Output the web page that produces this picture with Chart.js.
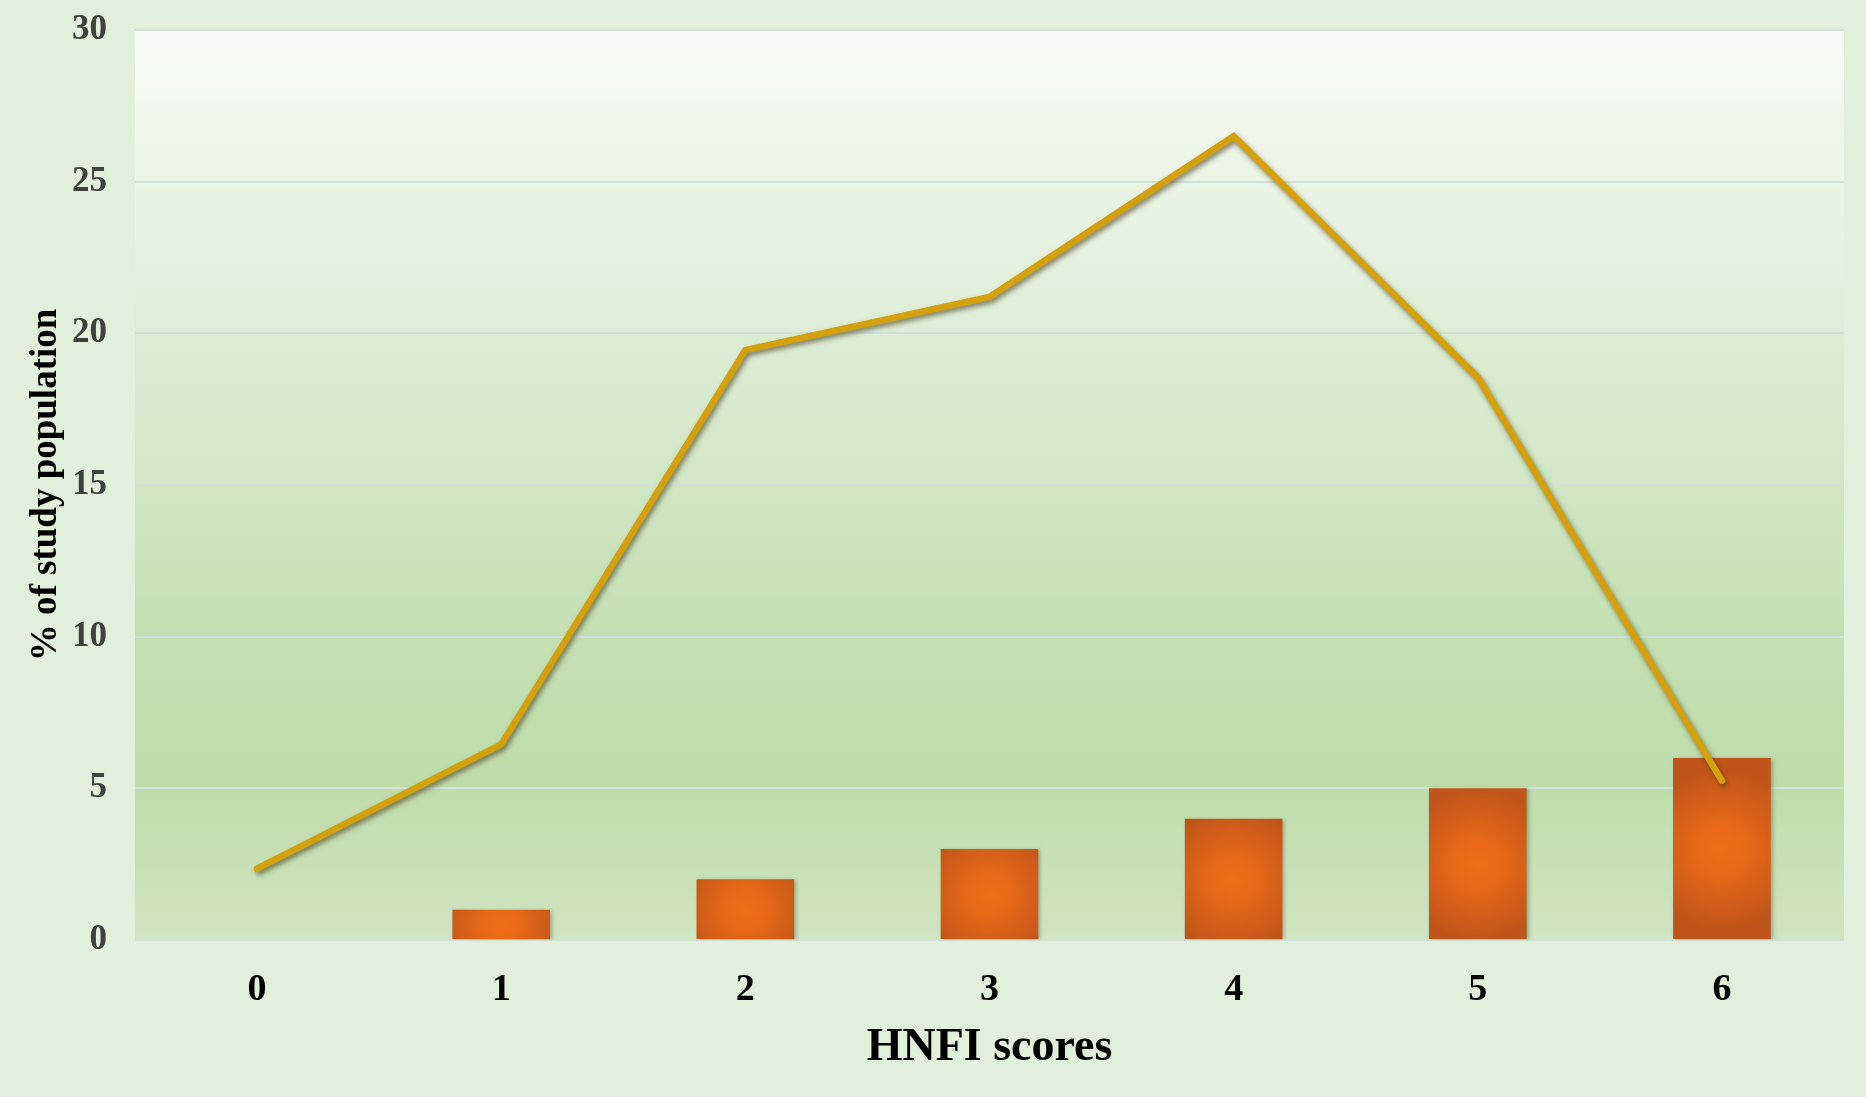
<!DOCTYPE html>
<html>
<head>
<meta charset="utf-8">
<title>HNFI scores</title>
<script src="https://cdn.jsdelivr.net/npm/chart.js@4.4.1/dist/chart.umd.min.js"></script>
<style>
  html, body { margin: 0; padding: 0; background: #E2EFDA; }
  #wrap { width: 1866px; height: 1097px; position: relative; }
</style>
</head>
<body>
<div id="wrap"><canvas id="hnfi-chart"></canvas></div>
<script>
// values
const scores = ['0', '1', '2', '3', '4', '5', '6'];
const barValues = [0, 1, 2, 3, 4, 5, 6];
const linePercent = [2.35, 6.45, 19.45, 21.2, 26.5, 18.55, 5.25];
const yTicks = [0, 5, 10, 15, 20, 25, 30];

const serif = "'Liberation Serif', 'Times New Roman', serif";

// orange bars, bright in the middle and darker towards the edges
function barFill(ctx) {
  const chart = ctx.chart;
  if (!chart.chartArea || !chart.scales.x) return '#E06518';
  const xs = chart.scales.x, ys = chart.scales.y;
  const cx = xs.getPixelForValue(ctx.dataIndex);
  const top = ys.getPixelForValue(ctx.raw);
  const base = ys.getPixelForValue(0);
  const w = xs.getPixelForValue(1) - xs.getPixelForValue(0);
  const bw = w * 0.4;
  const cy = (top + base) / 2;
  const r = bw * 0.6 + (base - top) * 0.12;
  const g = chart.ctx.createRadialGradient(cx, cy, 0, cx, cy, r);
  g.addColorStop(0, '#EE6E19');
  g.addColorStop(0.3, '#E86818');
  g.addColorStop(1, '#BF551A');
  return g;
}

const backdrop = {
  id: 'backdrop',
  beforeDraw(chart) {
    const { ctx, chartArea: a, width, height } = chart;
    ctx.save();
    ctx.fillStyle = '#E2EFDA';
    ctx.fillRect(0, 0, width, height);
    const g = ctx.createLinearGradient(0, a.top, 0, a.bottom);
    g.addColorStop(0, '#F9FBF8');
    g.addColorStop(0.17, '#EBF4E5');
    g.addColorStop(0.34, '#DDEDD4');
    g.addColorStop(0.5, '#D0E6C4');
    g.addColorStop(0.67, '#C4DFB3');
    g.addColorStop(0.83, '#BEDCAA');
    g.addColorStop(1, '#D0E5C2');
    ctx.fillStyle = g;
    ctx.fillRect(a.left, a.top, a.right - a.left, a.bottom - a.top);
    ctx.restore();
  }
};

// soft drop shadow under the line and the bars
const shadow = {
  id: 'shadow',
  beforeDatasetDraw(chart, args) {
    const ctx = chart.ctx;
    ctx.save();
    if (args.meta.type === 'line') {
      ctx.shadowColor = 'rgba(60, 50, 20, 0.6)';
      ctx.shadowBlur = 5;
      ctx.shadowOffsetX = 2;
      ctx.shadowOffsetY = 3;
    } else {
      ctx.shadowColor = 'rgba(60, 60, 40, 0.35)';
      ctx.shadowBlur = 4;
      ctx.shadowOffsetX = 2;
      ctx.shadowOffsetY = 1;
    }
  },
  afterDatasetDraw(chart) {
    chart.ctx.restore();
  }
};

const canvas = document.getElementById('hnfi-chart');
new Chart(canvas.getContext('2d'), {
  data: {
    labels: scores,
    datasets: [
      {
        type: 'line',
        data: linePercent,
        borderColor: '#D4A00C',
        borderWidth: 6.5,
        tension: 0,
        pointRadius: 0,
        borderCapStyle: 'round',
        borderJoinStyle: 'miter',
        order: 0
      },
      {
        type: 'bar',
        data: barValues,
        backgroundColor: barFill,
        borderWidth: 0,
        categoryPercentage: 0.8,
        barPercentage: 0.5,
        order: 1
      }
    ]
  },
  options: {
    responsive: true,
    maintainAspectRatio: false,
    animation: false,
    layout: { padding: { top: 30, right: 22, left: 0, bottom: 0 } },
    plugins: {
      legend: { display: false },
      tooltip: { enabled: false }
    },
    scales: {
      x: {
        grid: { display: false },
        border: { display: false },
        ticks: {
          color: '#000000',
          padding: 19,
          font: { family: serif, size: 38, weight: 'bold' }
        },
        title: {
          display: true,
          text: 'HNFI scores',
          color: '#000000',
          padding: { top: 0, bottom: 21 },
          font: { family: serif, size: 46, weight: 'bold' }
        },
        afterFit(scale) { scale.height = 157; }
      },
      y: {
        min: 0,
        max: 30,
        afterBuildTicks(scale) {
          scale.ticks = yTicks.map(v => ({ value: v }));
        },
        grid: {
          color: '#D0E2D8',
          lineWidth: 2,
          drawTicks: true,
          tickLength: 28,
          tickColor: 'rgba(0,0,0,0)'
        },
        border: { display: false },
        ticks: {
          color: '#404040',
          padding: 0,
          font: { family: serif, size: 35, weight: 'bold' }
        },
        title: {
          display: true,
          text: '% of study population',
          color: '#000000',
          padding: { top: 24, bottom: 0 },
          font: { family: serif, size: 37, weight: 'bold' }
        },
        afterFit(scale) { scale.width = 135; }
      }
    }
  },
  plugins: [backdrop, shadow]
});
</script>
</body>
</html>
